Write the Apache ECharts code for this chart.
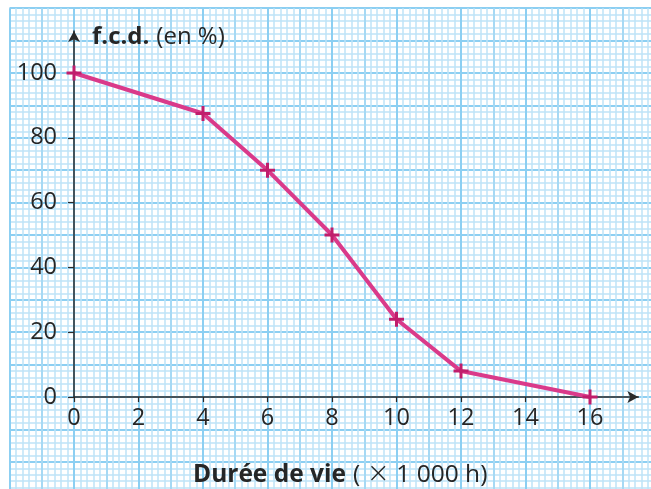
<!DOCTYPE html>
<html><head><meta charset="utf-8">
<script src="https://cdn.jsdelivr.net/npm/echarts@6/dist/echarts.min.js"></script>
<style>html,body{margin:0;padding:0;background:#fff}#c{width:651px;height:489px}</style>
</head><body><div id="c"></div>
<script>
// Data
const durations = [0, 4, 6, 8, 10, 12, 16];
const fcd = [100, 87.5, 70, 50, 24, 8, 0];
const xTickLabels = [0, 2, 4, 6, 8, 10, 12, 14, 16];
const yTickLabels = [0, 20, 40, 60, 80, 100];
const xTitleBold = 'Durée de vie';
const xTitleOpen = '( ';
const xTitleTimes = '×';
const xTitleRest = ' 1 000 h)';
const yTitleBold = 'f.c.d.';
const yTitleRest = '(en %)';

// Layout constants (pixels)
const X0 = 74, UX = 32.25, Y0 = 397, UY = 3.24;
const X_AX_MAX = 17.5, Y_AX_MAX = 113;
const P_XMIN = -2, P_XMAX = 18, P_YMIN = -30, P_YMAX = 120;

const FONT = 'Open Sans';
const TXT = '#262626';
const MAJOR = '#8ccff2', MINOR = '#bfe4f7';

const chart = echarts.init(document.getElementById('c'), null, {renderer: 'canvas'});
const paperAxisCommon = {
  show: true, axisLine: {show: false}, axisTick: {show: false}, axisLabel: {show: false},
  minorTick: {show: false, splitNumber: 5},
  minorSplitLine: {show: true, lineStyle: {color: MINOR, width: 1.5}},
};
chart.setOption({
  backgroundColor: '#fff',
  animation: false,
  grid: [
    {left: X0 + P_XMIN * UX, width: (P_XMAX - P_XMIN) * UX,
     top: Y0 - P_YMAX * UY, height: (P_YMAX - P_YMIN) * UY, outerBoundsMode: 'none', containLabel: false},
    {left: X0, width: X_AX_MAX * UX, top: Y0 - Y_AX_MAX * UY, height: Y_AX_MAX * UY,
     outerBoundsMode: 'none', containLabel: false}
  ],
  xAxis: [
    Object.assign({}, paperAxisCommon, {
      type: 'value', gridIndex: 0, min: P_XMIN, max: P_XMAX, interval: 1,
      splitLine: {show: true, lineStyle: {color: [MAJOR, '#a6d9f4'], width: 2}}
    }),
    {
      type: 'value', gridIndex: 1, min: 0, max: X_AX_MAX,
      splitLine: {show: false},
      axisLine: {show: true, onZero: false, symbol: ['none', 'arrow'], symbolSize: [9, 11],
        lineStyle: {color: '#2a2a2a', width: 1.5}},
      axisTick: {show: true, inside: false, length: 5, customValues: xTickLabels,
        lineStyle: {color: '#2a2a2a', width: 1.2}},
      axisLabel: {show: true, customValues: xTickLabels, margin: 9, fontFamily: FONT, fontSize: 23.5, color: TXT},
      name: '{b|' + xTitleBold + '}{n|' + xTitleOpen + '}{t|' + xTitleTimes + '}{n|' + xTitleRest + '}',
      nameLocation: 'middle', nameGap: 64,
      nameTextStyle: {padding: [0, 32, 0, 0],
        rich: {b: {fontFamily: FONT, fontWeight: 'bold', fontSize: 24.5, color: TXT, padding: [0, 7, 0, 0]},
               n: {fontFamily: FONT, fontSize: 24.5, color: TXT},
               t: {fontFamily: 'DejaVu Sans', fontWeight: 'lighter', fontSize: 28, color: TXT}}}
    }
  ],
  yAxis: [
    Object.assign({}, paperAxisCommon, {
      type: 'value', gridIndex: 0, min: P_YMIN, max: P_YMAX, interval: 10,
      splitLine: {show: true, lineStyle: {color: MAJOR, width: 2}}
    }),
    {
      type: 'value', gridIndex: 1, min: 0, max: Y_AX_MAX,
      splitLine: {show: false},
      axisLine: {show: true, onZero: false, symbol: ['none', 'arrow'], symbolSize: [9, 11],
        lineStyle: {color: '#2a2a2a', width: 1.5}},
      axisTick: {show: true, inside: false, length: 6, customValues: yTickLabels,
        lineStyle: {color: '#2a2a2a', width: 1.2}},
      axisLabel: {show: true, customValues: yTickLabels, margin: 17, fontFamily: FONT, fontSize: 23.5, color: TXT},
      name: '{b|' + yTitleBold + '}{n|' + yTitleRest + '}',
      nameLocation: 'end', nameGap: -6,
      nameTextStyle: {align: 'left', verticalAlign: 'middle', padding: [0, 0, 0, 18],
        rich: {b: {fontFamily: FONT, fontWeight: 'bold', fontSize: 24, color: TXT, padding: [0, 7, 0, 0]},
               n: {fontFamily: FONT, fontSize: 24, color: TXT}}}
    }
  ],
  series: [{
    type: 'line', xAxisIndex: 1, yAxisIndex: 1,
    data: durations.map((d, i) => [d, fcd[i]]),
    lineStyle: {color: '#da3a8a', width: 4},
    itemStyle: {color: '#c01e6c'},
    symbol: 'path://M4,0h2v4h4v2h-4v4h-2v-4h-4v-2h4z',
    symbolSize: 15,
    showSymbol: true,
    clip: false,
    z: 5
  }]
});
</script></body></html>
